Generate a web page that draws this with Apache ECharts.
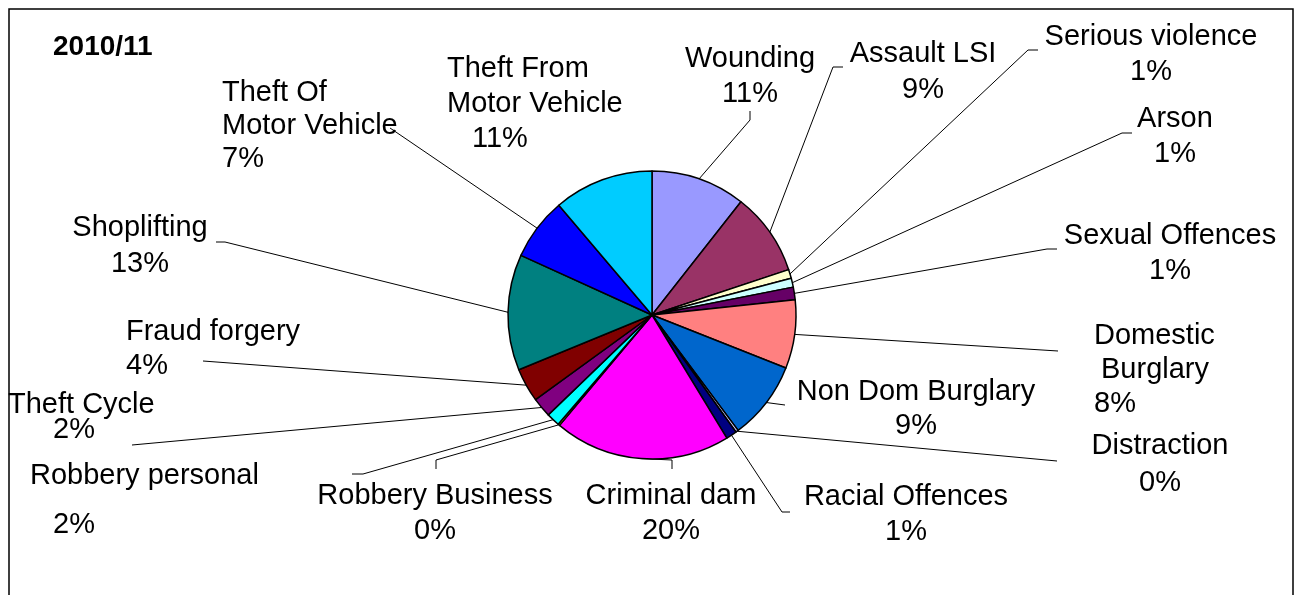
<!DOCTYPE html>
<html>
<head>
<meta charset="utf-8">
<script src="https://cdn.jsdelivr.net/npm/echarts@6/dist/echarts.min.js"></script>
<style>
html,body{margin:0;padding:0;background:#fff;}
#chart{width:1300px;height:595px;}
</style>
</head>
<body>
<div id="chart"></div>
<script>
// ---- data ----
const title = '2010/11';
const categories = ['Wounding', 'Assault LSI', 'Serious violence', 'Arson', 'Sexual Offences',
  'Domestic Burglary', 'Non Dom Burglary', 'Distraction', 'Racial Offences', 'Criminal dam',
  'Robbery Business', 'Robbery personal', 'Theft Cycle', 'Fraud forgery', 'Shoplifting',
  'Theft Of Motor Vehicle', 'Theft From Motor Vehicle'];
const values = [10.6, 9.3, 1.0, 1.0, 1.4, 7.7, 8.8, 0.3, 1.2, 19.8, 0.2, 1.5, 2.2, 3.8, 13.0, 7.0, 11.2];
const labelTexts = ['Wounding', 'Assault LSI', 'Serious violence', 'Arson', 'Sexual Offences',
  'Domestic\nBurglary', 'Non Dom Burglary', 'Distraction', 'Racial Offences', 'Criminal dam',
  'Robbery Business', 'Robbery personal', 'Theft Cycle', 'Fraud forgery', 'Shoplifting',
  'Theft Of\nMotor Vehicle', 'Theft From\nMotor Vehicle'];

// ---- styles / layout ----
const colors = ['#9999FF', '#993366', '#FFFFCC', '#CCFFFF', '#660066', '#FF8080', '#0066CC',
  '#CCCCFF', '#000080', '#FF00FF', '#FFFF00', '#00FFFF', '#800080', '#800000', '#008080',
  '#0000FF', '#00CCFF'];
const FONT = "'Liberation Sans', Arial, sans-serif";
const FS = 29;
const DY = 2;
// x, top, align, lineHeight, per-line left padding, leader points after the slice edge
const layout = [
  {x: 750, top: 39.5, align: 'center', L: 35, line: [[750, 120], [750, 111]]},
  {x: 923, top: 34, align: 'center', L: 36, line: [[833, 67], [843, 67]]},
  {x: 1151, top: 17.5, align: 'center', L: 35, line: [[1028, 50], [1038, 50]]},
  {x: 1175, top: 99.5, align: 'center', L: 35, line: [[1122, 133], [1132, 133]]},
  {x: 1170, top: 216.5, align: 'center', L: 35, line: [[1047, 249], [1057, 249]]},
  {x: 1094, top: 317, align: 'left', L: 34, pad: [0, 7, 0], line: [[1058, 351]]},
  {x: 916, top: 373, align: 'center', L: 34, line: [[785, 405]]},
  {x: 1160, top: 425.5, align: 'center', L: 37, line: [[1057, 461]]},
  {x: 906, top: 477.5, align: 'center', L: 35, line: [[782, 512], [790, 512]]},
  {x: 671, top: 476.5, align: 'center', L: 35, line: [[672, 460], [672, 469]]},
  {x: 435, top: 476.5, align: 'center', L: 35, line: [[436, 460], [436, 469]]},
  {x: 30, top: 449.5, align: 'left', L: 49, pad: [0, 23], line: [[363, 474], [352, 474]]},
  {x: 8, top: 390.5, align: 'left', L: 25, pad: [0, 45], line: [[132, 445]]},
  {x: 126, top: 313, align: 'left', L: 34, line: [[203, 361]]},
  {x: 140, top: 208, align: 'center', L: 36, line: [[225, 242], [216, 242]]},
  {x: 222, top: 74.5, align: 'left', L: 33, line: [[390, 128]]},
  {x: 447, top: 49.5, align: 'left', L: 35, pad: [0, 0, 25], line: null}
];

const data = categories.map((name, i) => {
  const lay = layout[i];
  const rich = {};
  (lay.pad || []).forEach((p, k) => {
    if (p) rich['p' + k] = {padding: [0, 0, 0, p], lineHeight: lay.L, fontSize: FS, fontFamily: FONT, color: '#000'};
  });
  return {
    name: name,
    value: values[i],
    itemStyle: {color: colors[i]},
    label: {lineHeight: lay.L, rich: rich},
    labelLine: {show: !!lay.line}
  };
});

const chart = echarts.init(document.getElementById('chart'), null, {renderer: 'canvas'});
chart.setOption({
  backgroundColor: '#fff',
  animation: false,
  title: {
    text: title, left: 53, top: 33, padding: 0,
    textStyle: {fontFamily: FONT, fontSize: 28, fontWeight: 'bold', color: '#000', lineHeight: 28}
  },
  graphic: [{
    type: 'rect', shape: {x: 9, y: 9, width: 1284, height: 620},
    style: {fill: 'none', stroke: '#000', lineWidth: 1.5}, silent: true
  }],
  series: [{
    type: 'pie',
    center: [652, 315],
    radius: 144,
    startAngle: 90,
    clockwise: true,
    percentPrecision: 0,
    avoidLabelOverlap: false,
    itemStyle: {borderColor: '#000', borderWidth: 1.5},
    emphasis: {disabled: true},
    label: {
      show: true, position: 'outside',
      fontFamily: FONT, fontSize: FS, color: '#000',
      formatter: function (p) {
        const lay = layout[p.dataIndex];
        const lines = labelTexts[p.dataIndex].split('\n').concat([p.percent + '%']);
        return lines.map((t, k) => (lay.pad && lay.pad[k]) ? '{p' + k + '|' + t + '}' : t).join('\n');
      }
    },
    labelLine: {show: true, length: 10, length2: 10, smooth: false, lineStyle: {color: '#000', width: 1}},
    labelLayout: function (params) {
      const lay = layout[params.dataIndex];
      const res = {x: lay.x, y: lay.top + DY, align: lay.align, verticalAlign: 'top'};
      if (lay.line && params.labelLinePoints) {
        const s = params.labelLinePoints[0];
        const pts = [[s[0], s[1]]].concat(lay.line.map(p => p.slice()));
        if (pts.length === 2) pts.push(pts[1].slice());
        res.labelLinePoints = pts;
      }
      return res;
    },
    data: data
  }]
});
</script>
</body>
</html>
